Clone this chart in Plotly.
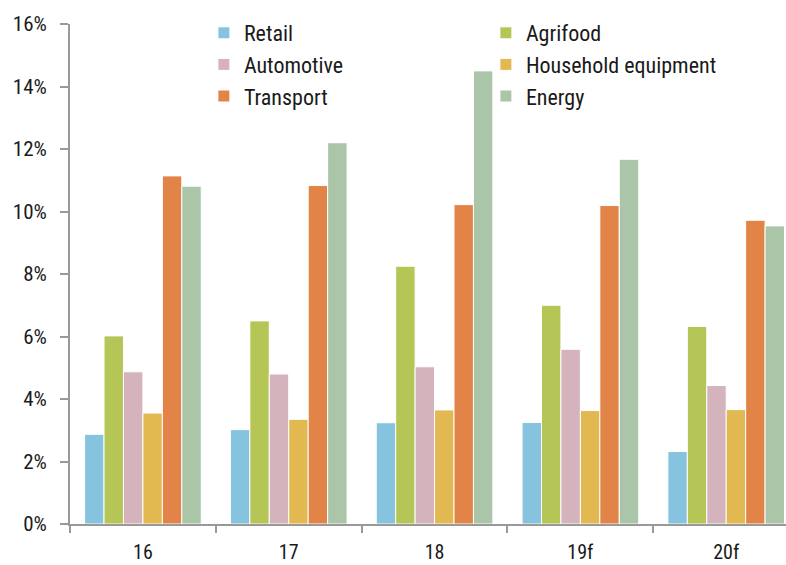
import plotly.graph_objects as go

categories = ["16", "17", "18", "19f", "20f"]
retail = [2.87, 3.02, 3.24, 3.25, 2.32]
agrifood = [6.02, 6.50, 8.25, 7.00, 6.32]
automotive = [4.87, 4.80, 5.03, 5.59, 4.43]
household = [3.55, 3.35, 3.65, 3.63, 3.66]
transport = [11.14, 10.83, 10.22, 10.19, 9.72]
energy = [10.81, 12.20, 14.50, 11.67, 9.54]

series_names = ["Retail", "Agrifood", "Automotive", "Household equipment", "Transport", "Energy"]
series_values = [retail, agrifood, automotive, household, transport, energy]
colors = ["#85C3DF", "#B5C657", "#D4B3BC", "#E2B850", "#E28347", "#ABC5A8"]

FONT = "Liberation Sans Narrow, Roboto Condensed, Roboto, sans-serif"
AX = "#999999"

fig = go.Figure()
for name, vals, col in zip(series_names, series_values, colors):
    fig.add_trace(go.Bar(
        x=categories, y=vals, name=name,
        marker=dict(color=col, line=dict(color="white", width=1)),
    ))

fig.update_layout(
    width=786, height=565, autosize=False,
    margin=dict(l=70, r=0, t=24, b=41),
    paper_bgcolor="white", plot_bgcolor="white",
    barmode="group", bargap=0.2, bargroupgap=0,
    font=dict(family=FONT, size=21, color="#1a1a1a"),
    showlegend=True,
    legend=dict(
        orientation="h", x=0.187, xanchor="left", y=1.024, yanchor="top",
        entrywidth=237, entrywidthmode="pixels",
        font=dict(family=FONT, size=22, color="#1a1a1a"),
        bgcolor="rgba(0,0,0,0)", traceorder="normal",
    ),
    xaxis=dict(
        type="category", range=[-0.5, 4.41], automargin=False,
        tickson="boundaries", ticks="outside", ticklen=7, tickwidth=2, tickcolor=AX,
        showline=True, linecolor=AX, linewidth=2, showgrid=False,
        tickfont=dict(family=FONT, size=20, color="#1a1a1a"),
        ticklabelstandoff=9,
    ),
    yaxis=dict(
        range=[0, 16], dtick=2, ticksuffix="%", automargin=False,
        ticks="outside", ticklen=8, tickwidth=2, tickcolor=AX,
        showline=True, linecolor=AX, linewidth=2, showgrid=False, zeroline=False,
        tickfont=dict(family=FONT, size=21, color="#1a1a1a"),
        ticklabelstandoff=9,
    ),
)

fig.write_html("out.html")
